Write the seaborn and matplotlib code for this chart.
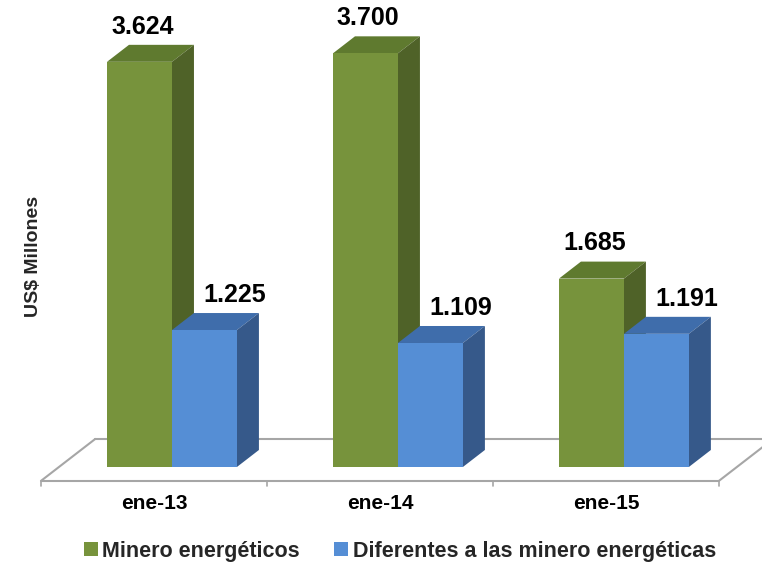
import matplotlib
matplotlib.use("Agg")
import matplotlib.pyplot as plt
from matplotlib.patches import Polygon
import pandas as pd
import seaborn as sns

# datos (US$ millones)
meses = ["ene-13", "ene-14", "ene-15"]
series = ["Minero energéticos", "Diferentes a las minero energéticas"]
minero = [3624, 3700, 1685]
diferentes = [1225, 1109, 1191]

colores = ["#77933C", "#558ED5"]
colores_top = ["#5F7A2F", "#3F6DAB"]
colores_lado = ["#4F6228", "#36598A"]

df = pd.DataFrame({
    "mes": meses * 2,
    "serie": [series[0]] * len(meses) + [series[1]] * len(meses),
    "valor": minero + diferentes,
})

sns.set_theme(style="white")
plt.rcParams["font.family"] = ["Liberation Sans", "DejaVu Sans"]

fig = plt.figure(figsize=(7.62, 5.62), dpi=100)
ax = fig.add_axes([0, 0, 1, 1])
sns.barplot(data=df, x="mes", y="valor", hue="serie", palette=colores,
            width=0.575, gap=0, saturation=1, linewidth=0, zorder=3, ax=ax)

ax.set_xlim(-0.761, 2.611)
ax.set_ylim(-850, 4177)
ax.set_axis_off()

# profundidad del efecto 3D (en unidades de datos)
DX, DY = 0.0973, 152
n = len(meses)

# piso
gris = "#A6A6A6"
fz, bz = -0.82, 1.65
fx0, fx1 = -0.5 + fz * DX, n - 0.5 + fz * DX
bx0, bx1 = -0.5 + bz * DX, n - 0.5 + bz * DX
fy, by = fz * DY, bz * DY
ax.plot([fx0, fx1], [fy, fy], color=gris, lw=1.5, zorder=0.5, solid_capstyle="butt")
ax.plot([bx0, bx1], [by, by], color=gris, lw=1.5, zorder=0.5, clip_on=False)
ax.plot([fx0, bx0], [fy, by], color=gris, lw=1.5, zorder=0.5)
ax.plot([fx1, bx1], [fy, by], color=gris, lw=1.5, zorder=0.5, clip_on=False)
for k in range(n + 1):
    xt = k - 0.5 + fz * DX
    ax.plot([xt, xt], [fy, fy - 45], color=gris, lw=1.2, zorder=0.5)

for i, mes in enumerate(meses):
    ax.text(i + fz * DX, -331, mes, ha="center", va="center",
            fontsize=15, fontweight="bold", color="black")

# caras superior y lateral + etiquetas
label_dx = [2, 21.6]
for i, cont in enumerate(ax.containers):
    for bar in cont:
        x0, w, h = bar.get_x(), bar.get_width(), bar.get_height()
        top = Polygon([(x0, h), (x0 + w, h), (x0 + w + DX, h + DY), (x0 + DX, h + DY)],
                      closed=True, facecolor=colores_top[i], edgecolor="none",
                      zorder=1 + 0.5 * i)
        lado = Polygon([(x0 + w, 0), (x0 + w + DX, DY), (x0 + w + DX, h + DY), (x0 + w, h)],
                       closed=True, facecolor=colores_lado[i], edgecolor="none",
                       zorder=1 + 0.5 * i)
        ax.add_patch(top)
        ax.add_patch(lado)
        txt = f"{int(h):,}".replace(",", ".")
        ax.annotate(txt, xy=(x0 + w / 2, h + DY), xytext=(label_dx[i], 8),
                    textcoords="offset points", ha="center", va="baseline",
                    fontsize=18, fontweight="bold", color="black")

handles, labels = ax.get_legend_handles_labels()
if ax.get_legend() is not None:
    ax.get_legend().remove()
fig.legend(handles, labels, loc="center", bbox_to_anchor=(400 / 762, 1 - 551 / 562),
           ncol=2, frameon=False, handlelength=0.65, handleheight=0.65,
           handletextpad=0.2, columnspacing=1.6,
           prop={"weight": "bold", "size": 15.5})

fig.text(34 / 762, 1 - 256 / 562, "US$ Millones", rotation=90, ha="center",
         va="center", fontsize=14, fontweight="bold")

fig.savefig("out.png", dpi=100)
